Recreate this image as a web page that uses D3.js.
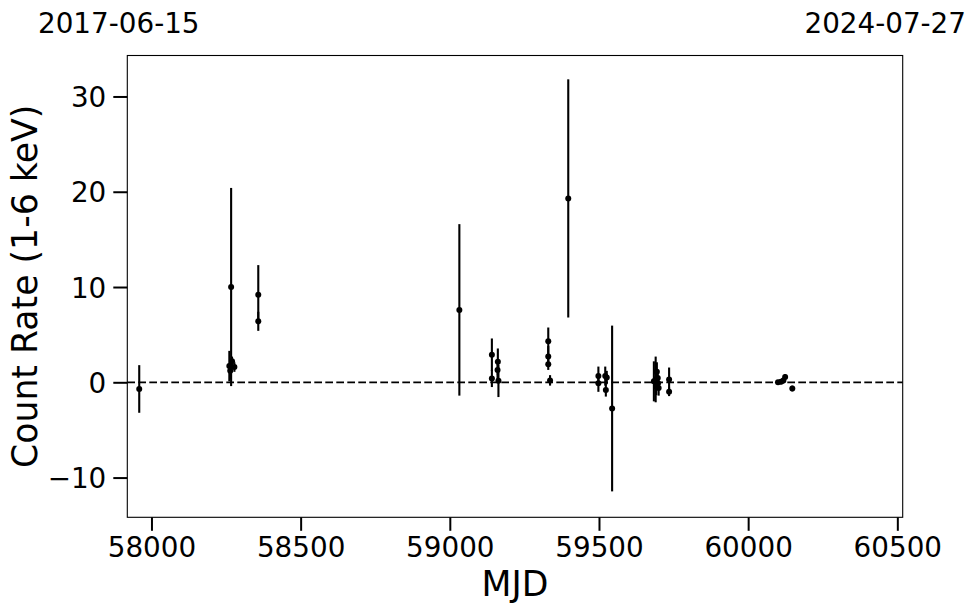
<!DOCTYPE html>
<html>
<head>
<meta charset="utf-8">
<script src="https://cdn.jsdelivr.net/npm/d3@7"></script>
<style>
  html, body { margin: 0; padding: 0; background: #fff; }
  svg { display: block; font-family: "DejaVu Sans", sans-serif; }
</style>
</head>
<body>
<svg id="chart" width="980" height="613"></svg>
<script>
// ---- data ----
const mjd = [57959,
  58267, 58261, 58264, 58270, 58278,
  58358, 58358,
  59032,
  59141, 59141,
  59161, 59160, 59163,
  59330, 59330, 59330, 59336,
  59397,
  59498, 59498, 59521, 59526, 59523,
  59544,
  59684, 59690, 59694, 59697, 59692, 59700, 59698,
  59735, 59735,
  60100, 60110, 60118, 60124,
  60148];
const rate = [-0.7,
  10.0, 1.7, 1.2, 2.2, 1.6,
  9.2, 6.4,
  7.6,
  2.9, 0.4,
  2.15, 1.3, 0.15,
  4.3, 2.7, 1.9, 0.2,
  19.3,
  0.65, -0.1, 0.65, 0.5, -0.8,
  -2.75,
  0.1, 0.3, 1.1, 0.45, -0.45, -0.6, -0.1,
  0.3, -1.0,
  0.0, 0.05, 0.2, 0.55,
  -0.65];
const rateErr = [2.5,
  10.4, 1.6, 0.9, 0.5, 0.5,
  3.1, 1.0,
  9.0,
  1.7, 0.9,
  1.4, 1.0, 1.7,
  1.45, 1.1, 0.6, 0.55,
  12.5,
  1.0, 0.9, 1.0, 0.7, 0.7,
  8.7,
  2.1, 2.4, 1.0, 0.8, 0.9, 0.8, 0.6,
  1.25, 0.45,
  0.2, 0.25, 0.3, 0.3,
  0.3];
const xTicks = [58000, 58500, 59000, 59500, 60000, 60500];
const yTicks = [-10, 0, 10, 20, 30];
const xDomain = [57919, 60518];
const yDomain = [-14.17, 34.3];
const dateLabels = ["2017-06-15", "2024-07-27"];
const xLabel = "MJD";
const yLabel = "Count Rate (1-6 keV)";

const points = mjd.map((m, i) => ({ x: m, y: rate[i], e: rateErr[i] }));

// ---- layout ----
const L = 127.3, R = 902.7, T = 55.5, B = 517.3;
const svg = d3.select("#chart");
const x = d3.scaleLinear().domain(xDomain).range([L, R]);
const y = d3.scaleLinear().domain(yDomain).range([B, T]);
const FS = 27.8;
const LFS = 34.7;

// axes
const gx = svg.append("g").attr("transform", `translate(0,${B})`)
  .call(d3.axisBottom(x).tickValues(xTicks).tickFormat(d3.format("d")).tickSize(13.5).tickPadding(6));
const gy = svg.append("g").attr("transform", `translate(${L},0)`)
  .call(d3.axisLeft(y).tickValues(yTicks).tickFormat(d => d < 0 ? "\u2212" + Math.abs(d) : d).tickSize(14).tickPadding(7));
[gx, gy].forEach(g => {
  g.select(".domain").remove();
  g.selectAll(".tick line").attr("stroke", "#000").attr("stroke-width", 2);
  g.selectAll(".tick text").attr("fill", "#000").style("font-size", FS + "px")
    .style("font-family", "'DejaVu Sans', sans-serif");
});
gx.selectAll(".tick text").attr("dy", "0.72em");
gy.selectAll(".tick text").attr("dy", "0.36em");

// zero line
svg.append("line")
  .attr("x1", L).attr("x2", R).attr("y1", y(0)).attr("y2", y(0))
  .attr("stroke", "#000").attr("stroke-width", 1.8).attr("stroke-dasharray", "7.7,3.3");

// error bars
svg.append("g").selectAll("line").data(points).join("line")
  .attr("x1", d => x(d.x)).attr("x2", d => x(d.x))
  .attr("y1", d => y(d.y - d.e)).attr("y2", d => y(d.y + d.e))
  .attr("stroke", "#000").attr("stroke-width", 2.1);

// markers
svg.append("g").selectAll("circle").data(points).join("circle")
  .attr("cx", d => x(d.x)).attr("cy", d => y(d.y)).attr("r", 3).attr("fill", "#000");

// frame
svg.append("rect").attr("x", L).attr("y", T).attr("width", R - L).attr("height", B - T)
  .attr("fill", "none").attr("stroke", "#000").attr("stroke-width", 1.1);

// labels
svg.append("text").attr("x", (L + R) / 2).attr("y", 596).attr("text-anchor", "middle")
  .style("font-size", LFS + "px").attr("fill", "#000").text(xLabel);
svg.append("text").attr("transform", `translate(37,${(T + B) / 2}) rotate(-90)`)
  .attr("text-anchor", "middle").style("font-size", LFS + "px").attr("fill", "#000").text(yLabel);

// top date labels
svg.append("text").attr("x", 38).attr("y", 33).attr("text-anchor", "start")
  .style("font-size", FS + "px").attr("fill", "#000").text(dateLabels[0]);
svg.append("text").attr("x", 966).attr("y", 33).attr("text-anchor", "end")
  .style("font-size", FS + "px").attr("fill", "#000").text(dateLabels[1]);
</script>
</body>
</html>
